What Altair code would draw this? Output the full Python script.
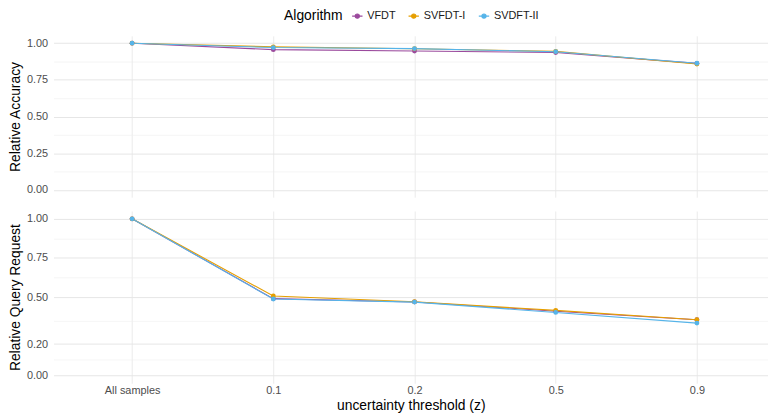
import altair as alt
import pandas as pd

categories = ["All samples", "0.1", "0.2", "0.5", "0.9"]
algorithms = ["VFDT", "SVFDT-I", "SVDFT-II"]
colors = ["#9b4a9d", "#e69f00", "#56b4e9"]

# Relative accuracy
acc_vfdt = [1.0, 0.956, 0.947, 0.936, 0.862]
acc_svfdt1 = [1.0, 0.975, 0.962, 0.944, 0.858]
acc_svdft2 = [1.0, 0.970, 0.963, 0.942, 0.863]

# Relative query request
q_vfdt = [1.0, 0.490, 0.469, 0.410, 0.355]
q_svfdt1 = [1.0, 0.507, 0.470, 0.415, 0.355]
q_svdft2 = [1.0, 0.488, 0.468, 0.402, 0.334]

acc_major = [0, 0.25, 0.5, 0.75, 1]
acc_minor = [0.125, 0.375, 0.625, 0.875]
q_major = [0, 0.2, 0.5, 0.75, 1]
q_minor = [0.1, 0.35, 0.625, 0.875]


def make_df(series):
    rows = []
    for alg, vals in zip(algorithms, series):
        for c, v in zip(categories, vals):
            rows.append({"Algorithm": alg, "z": c, "value": v})
    return pd.DataFrame(rows)


df_acc = make_df([acc_vfdt, acc_svfdt1, acc_svdft2])
df_q = make_df([q_vfdt, q_svfdt1, q_svdft2])

FONT = "Liberation Sans"

legend = alt.Legend(
    orient="none", legendX=233, legendY=-26, direction="horizontal",
    titleOrient="left", title="Algorithm", titleFontSize=14, titleFontWeight="normal",
    titleColor="#000000", labelFontSize=11, labelColor="#1a1a1a",
    symbolType="M-1,0H1M-0.4,0A0.4,0.4,0,1,1,0.4,0A0.4,0.4,0,1,1,-0.4,0Z",
    symbolSize=110, symbolStrokeWidth=1.2, columnPadding=10, titlePadding=8,
)


def panel(df, ytitle, major, minor, height, show_x):
    major_str = "[" + ",".join(str(v) for v in major) + "]"
    is_major = f"indexof({major_str}, datum.value) >= 0"
    if show_x:
        xaxis = alt.Axis(title="uncertainty threshold (z)", labelAngle=0, labelFontSize=11,
                         labelColor="#4d4d4d", titleFontSize=14, titleFontWeight="normal",
                         titleColor="#000000", labelPadding=1, titlePadding=4, tickSize=0,
                         grid=True, gridColor="#ebebeb", gridWidth=1)
    else:
        xaxis = alt.Axis(title=None, labels=False, grid=True, gridColor="#ebebeb",
                         gridWidth=1, tickSize=0)
    yaxis = alt.Axis(
        title=ytitle, values=major + minor,
        labelExpr=f"{is_major} ? format(datum.value, '.2f') : ''",
        labelFontSize=11, labelColor="#4d4d4d", labelPadding=6, tickSize=0,
        titleFontSize=14, titleFontWeight="normal", titleColor="#000000", titlePadding=4,
        grid=True,
        gridWidth={"condition": {"test": is_major, "value": 1}, "value": 0.6},
        gridColor={"condition": {"test": is_major, "value": "#e6e6e6"}, "value": "#eeeeee"},
    )
    return alt.Chart(df).mark_line(
        strokeWidth=1.1,
        point=alt.OverlayMarkDef(size=24, filled=True, opacity=1),
    ).encode(
        x=alt.X("z:N", sort=categories,
                scale=alt.Scale(type="point", padding=0.53, align=0.525),
                axis=xaxis),
        y=alt.Y("value:Q", scale=alt.Scale(domain=[-0.05, 1.05], nice=False, zero=False),
                axis=yaxis),
        color=alt.Color("Algorithm:N", sort=algorithms,
                        scale=alt.Scale(domain=algorithms, range=colors),
                        legend=legend),
    ).properties(width=722, height=height)


top = panel(df_acc, "Relative Accuracy", acc_major, acc_minor, 163, False)
bottom = panel(df_q, "Relative Query Request", q_major, q_minor, 174, True)

chart = alt.vconcat(top, bottom, spacing=14).properties(
    padding={"left": 0, "top": 0, "right": 0, "bottom": 0},
    background="white",
).configure_view(stroke=None).configure_axis(
    domain=False, ticks=False, labelFont=FONT, titleFont=FONT,
).configure_legend(labelFont=FONT, titleFont=FONT)

chart.save("out.html", embed_options={"renderer": "svg", "actions": False})
